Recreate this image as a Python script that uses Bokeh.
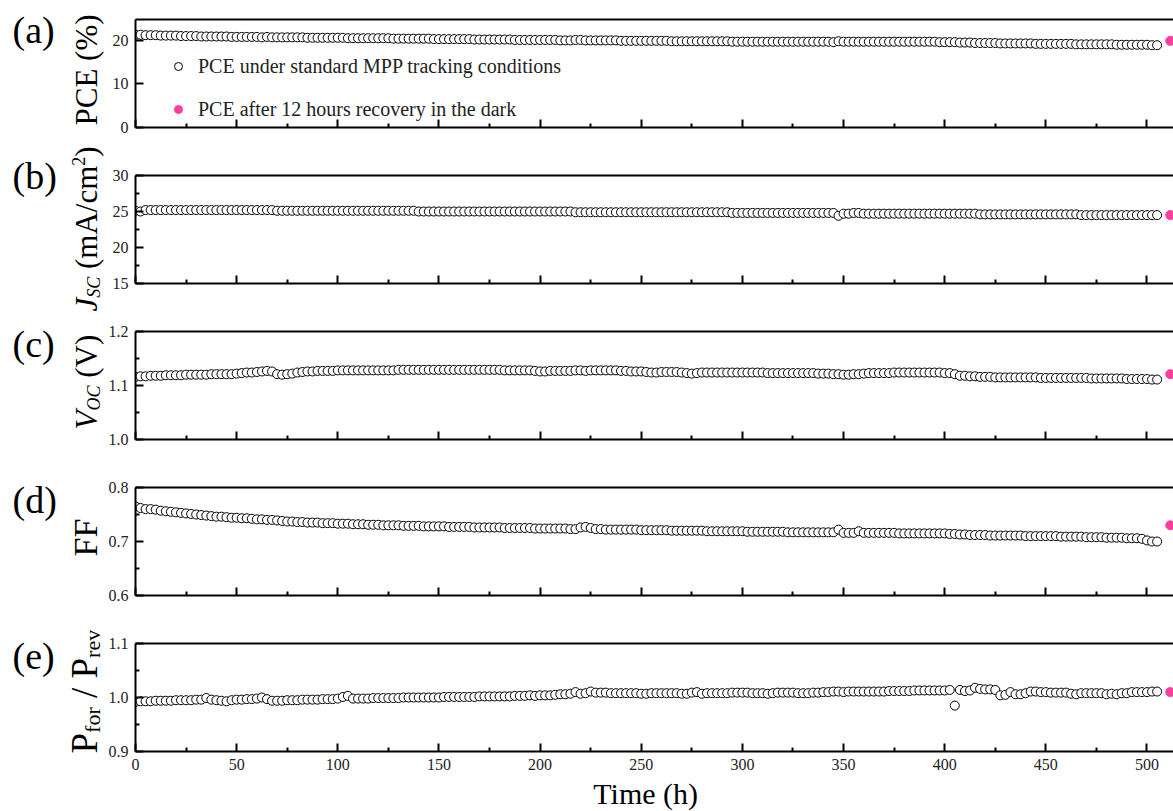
import math
from bokeh.plotting import figure
from bokeh.models import (Range1d, FixedTicker, NumeralTickFormatter, LinearAxis,
                          Label, Legend, LegendItem)
from bokeh.layouts import column, row
from bokeh.embed import file_html
from bokeh.resources import INLINE

# ---------------- data ----------------
time_h = [
    0, 2.5, 5, 7.5, 10, 12.5, 15, 17.5, 20, 22.5,
    25, 27.5, 30, 32.5, 35, 37.5, 40, 42.5, 45, 47.5,
    50, 52.5, 55, 57.5, 60, 62.5, 65, 67.5, 70, 72.5,
    75, 77.5, 80, 82.5, 85, 87.5, 90, 92.5, 95, 97.5,
    100, 102.5, 105, 107.5, 110, 112.5, 115, 117.5, 120, 122.5,
    125, 127.5, 130, 132.5, 135, 137.5, 140, 142.5, 145, 147.5,
    150, 152.5, 155, 157.5, 160, 162.5, 165, 167.5, 170, 172.5,
    175, 177.5, 180, 182.5, 185, 187.5, 190, 192.5, 195, 197.5,
    200, 202.5, 205, 207.5, 210, 212.5, 215, 217.5, 220, 222.5,
    225, 227.5, 230, 232.5, 235, 237.5, 240, 242.5, 245, 247.5,
    250, 252.5, 255, 257.5, 260, 262.5, 265, 267.5, 270, 272.5,
    275, 277.5, 280, 282.5, 285, 287.5, 290, 292.5, 295, 297.5,
    300, 302.5, 305, 307.5, 310, 312.5, 315, 317.5, 320, 322.5,
    325, 327.5, 330, 332.5, 335, 337.5, 340, 342.5, 345, 347.5,
    350, 352.5, 355, 357.5, 360, 362.5, 365, 367.5, 370, 372.5,
    375, 377.5, 380, 382.5, 385, 387.5, 390, 392.5, 395, 397.5,
    400, 402.5, 405, 407.5, 410, 412.5, 415, 417.5, 420, 422.5,
    425, 427.5, 430, 432.5, 435, 437.5, 440, 442.5, 445, 447.5,
    450, 452.5, 455, 457.5, 460, 462.5, 465, 467.5, 470, 472.5,
    475, 477.5, 480, 482.5, 485, 487.5, 490, 492.5, 495, 497.5,
    500, 502.5, 505,
]

pce = [
    21.3, 21.3, 21.2, 21.2, 21.2, 21.1, 21.1, 21.1, 21.1, 21.0,
    21.0, 21.0, 21.0, 20.9, 20.9, 20.9, 20.9, 20.9, 20.9, 20.8,
    20.8, 20.8, 20.8, 20.8, 20.8, 20.7, 20.8, 20.7, 20.7, 20.7,
    20.7, 20.7, 20.7, 20.7, 20.6, 20.6, 20.6, 20.6, 20.6, 20.6,
    20.6, 20.6, 20.5, 20.5, 20.5, 20.5, 20.5, 20.5, 20.5, 20.5,
    20.5, 20.4, 20.4, 20.4, 20.4, 20.4, 20.4, 20.4, 20.4, 20.3,
    20.3, 20.3, 20.3, 20.3, 20.3, 20.3, 20.3, 20.2, 20.2, 20.2,
    20.2, 20.2, 20.2, 20.2, 20.2, 20.1, 20.1, 20.1, 20.1, 20.1,
    20.1, 20.1, 20.1, 20.1, 20.0, 20.0, 20.0, 20.1, 20.1, 20.0,
    20.0, 20.0, 20.0, 20.0, 20.0, 20.0, 19.9, 19.9, 19.9, 19.9,
    19.9, 19.9, 19.9, 19.9, 19.9, 19.9, 19.8, 19.8, 19.8, 19.8,
    19.8, 19.8, 19.8, 19.8, 19.8, 19.8, 19.8, 19.8, 19.7, 19.7,
    19.7, 19.7, 19.7, 19.7, 19.7, 19.7, 19.7, 19.7, 19.7, 19.7,
    19.7, 19.7, 19.7, 19.7, 19.7, 19.7, 19.7, 19.7, 19.6, 19.8,
    19.7, 19.7, 19.7, 19.7, 19.7, 19.7, 19.7, 19.7, 19.7, 19.7,
    19.7, 19.7, 19.7, 19.7, 19.7, 19.7, 19.7, 19.7, 19.7, 19.6,
    19.6, 19.6, 19.6, 19.5, 19.5, 19.5, 19.4, 19.4, 19.4, 19.4,
    19.4, 19.3, 19.3, 19.3, 19.3, 19.3, 19.3, 19.3, 19.2, 19.2,
    19.2, 19.2, 19.2, 19.2, 19.2, 19.2, 19.1, 19.1, 19.1, 19.1,
    19.1, 19.1, 19.1, 19.1, 19.0, 19.0, 19.0, 19.0, 19.0, 19.0,
    19.0, 18.9, 18.9,
]

jsc = [
    25.1, 25.0, 25.2, 25.2, 25.2, 25.2, 25.2, 25.2, 25.2, 25.2,
    25.2, 25.2, 25.2, 25.2, 25.2, 25.2, 25.2, 25.2, 25.2, 25.2,
    25.2, 25.2, 25.2, 25.2, 25.2, 25.2, 25.2, 25.2, 25.1, 25.1,
    25.1, 25.1, 25.1, 25.1, 25.1, 25.1, 25.1, 25.1, 25.1, 25.1,
    25.1, 25.1, 25.1, 25.1, 25.1, 25.1, 25.1, 25.1, 25.1, 25.1,
    25.1, 25.1, 25.1, 25.1, 25.1, 25.1, 25.0, 25.0, 25.0, 25.0,
    25.0, 25.0, 25.0, 25.0, 25.0, 25.0, 25.0, 25.0, 25.0, 25.0,
    25.0, 25.0, 25.0, 25.0, 25.0, 25.0, 25.0, 25.0, 25.0, 25.0,
    25.0, 25.0, 25.0, 25.0, 25.0, 25.0, 25.0, 24.9, 24.9, 24.9,
    24.9, 24.9, 24.9, 24.9, 24.9, 24.9, 24.9, 24.9, 24.9, 24.9,
    24.9, 24.9, 24.9, 24.9, 24.9, 24.9, 24.9, 24.9, 24.9, 24.9,
    24.9, 24.9, 24.9, 24.9, 24.9, 24.9, 24.9, 24.9, 24.8, 24.8,
    24.8, 24.8, 24.8, 24.8, 24.8, 24.8, 24.8, 24.8, 24.8, 24.8,
    24.8, 24.8, 24.8, 24.8, 24.8, 24.8, 24.8, 24.8, 24.8, 24.4,
    24.7, 24.7, 24.8, 24.8, 24.7, 24.7, 24.7, 24.7, 24.7, 24.7,
    24.7, 24.7, 24.7, 24.7, 24.7, 24.7, 24.7, 24.7, 24.7, 24.7,
    24.7, 24.7, 24.7, 24.7, 24.7, 24.7, 24.7, 24.6, 24.6, 24.6,
    24.6, 24.6, 24.6, 24.6, 24.6, 24.6, 24.6, 24.6, 24.6, 24.6,
    24.6, 24.6, 24.6, 24.6, 24.6, 24.6, 24.6, 24.5, 24.5, 24.5,
    24.5, 24.5, 24.5, 24.5, 24.5, 24.5, 24.5, 24.5, 24.5, 24.5,
    24.5, 24.5, 24.5,
]

voc = [
    1.116, 1.117, 1.117, 1.118, 1.118, 1.118, 1.119, 1.119, 1.119, 1.119,
    1.120, 1.120, 1.120, 1.120, 1.120, 1.121, 1.121, 1.121, 1.121, 1.121,
    1.122, 1.123, 1.124, 1.124, 1.125, 1.126, 1.127, 1.126, 1.121, 1.120,
    1.121, 1.122, 1.124, 1.125, 1.126, 1.126, 1.127, 1.127, 1.127, 1.127,
    1.128, 1.128, 1.128, 1.128, 1.128, 1.128, 1.128, 1.128, 1.128, 1.128,
    1.128, 1.128, 1.129, 1.129, 1.129, 1.129, 1.129, 1.129, 1.129, 1.129,
    1.129, 1.129, 1.129, 1.129, 1.129, 1.129, 1.129, 1.129, 1.129, 1.129,
    1.129, 1.129, 1.129, 1.128, 1.128, 1.128, 1.128, 1.128, 1.128, 1.127,
    1.126, 1.126, 1.127, 1.127, 1.127, 1.127, 1.127, 1.128, 1.128, 1.127,
    1.128, 1.128, 1.128, 1.128, 1.128, 1.128, 1.127, 1.127, 1.126, 1.126,
    1.126, 1.125, 1.124, 1.124, 1.125, 1.125, 1.125, 1.125, 1.124, 1.123,
    1.122, 1.123, 1.124, 1.124, 1.124, 1.124, 1.124, 1.124, 1.124, 1.124,
    1.124, 1.124, 1.124, 1.124, 1.124, 1.123, 1.123, 1.123, 1.123, 1.123,
    1.123, 1.123, 1.123, 1.123, 1.123, 1.122, 1.122, 1.122, 1.121, 1.121,
    1.120, 1.120, 1.121, 1.121, 1.122, 1.123, 1.123, 1.123, 1.123, 1.123,
    1.124, 1.124, 1.124, 1.124, 1.124, 1.124, 1.124, 1.124, 1.124, 1.124,
    1.123, 1.123, 1.121, 1.118, 1.118, 1.117, 1.117, 1.116, 1.116, 1.116,
    1.115, 1.115, 1.115, 1.115, 1.115, 1.115, 1.115, 1.115, 1.115, 1.114,
    1.114, 1.114, 1.114, 1.114, 1.114, 1.114, 1.114, 1.114, 1.114, 1.113,
    1.113, 1.113, 1.113, 1.113, 1.113, 1.113, 1.112, 1.112, 1.112, 1.112,
    1.112, 1.111, 1.111,
]

ff = [
    0.765, 0.762, 0.760, 0.760, 0.759, 0.757, 0.756, 0.755, 0.754, 0.753,
    0.752, 0.751, 0.750, 0.749, 0.748, 0.747, 0.746, 0.746, 0.745, 0.744,
    0.744, 0.743, 0.743, 0.742, 0.741, 0.741, 0.740, 0.740, 0.739, 0.738,
    0.737, 0.737, 0.736, 0.736, 0.735, 0.735, 0.735, 0.734, 0.734, 0.734,
    0.733, 0.733, 0.733, 0.732, 0.732, 0.732, 0.731, 0.731, 0.731, 0.730,
    0.730, 0.730, 0.730, 0.729, 0.729, 0.729, 0.729, 0.728, 0.728, 0.728,
    0.728, 0.728, 0.727, 0.727, 0.727, 0.727, 0.727, 0.726, 0.726, 0.726,
    0.726, 0.726, 0.726, 0.725, 0.725, 0.725, 0.725, 0.725, 0.725, 0.724,
    0.724, 0.724, 0.724, 0.724, 0.724, 0.724, 0.723, 0.723, 0.726, 0.727,
    0.725, 0.723, 0.723, 0.722, 0.722, 0.722, 0.722, 0.722, 0.722, 0.722,
    0.721, 0.721, 0.721, 0.721, 0.721, 0.721, 0.720, 0.720, 0.720, 0.720,
    0.720, 0.720, 0.720, 0.719, 0.719, 0.719, 0.719, 0.719, 0.719, 0.719,
    0.719, 0.718, 0.718, 0.718, 0.718, 0.718, 0.718, 0.718, 0.718, 0.717,
    0.717, 0.717, 0.717, 0.717, 0.717, 0.717, 0.717, 0.717, 0.717, 0.722,
    0.716, 0.716, 0.716, 0.719, 0.716, 0.716, 0.716, 0.716, 0.716, 0.716,
    0.716, 0.715, 0.715, 0.715, 0.715, 0.715, 0.715, 0.715, 0.715, 0.715,
    0.715, 0.714, 0.714, 0.713, 0.713, 0.712, 0.712, 0.712, 0.712, 0.711,
    0.711, 0.711, 0.711, 0.711, 0.711, 0.711, 0.710, 0.710, 0.710, 0.710,
    0.710, 0.710, 0.710, 0.709, 0.709, 0.709, 0.709, 0.709, 0.708, 0.708,
    0.708, 0.708, 0.707, 0.707, 0.707, 0.707, 0.706, 0.706, 0.706, 0.705,
    0.702, 0.700, 0.700,
]

p_ratio = [
    0.992, 0.993, 0.993, 0.993, 0.994, 0.994, 0.994, 0.994, 0.995, 0.995,
    0.995, 0.995, 0.996, 0.996, 0.999, 0.996, 0.995, 0.994, 0.993, 0.995,
    0.996, 0.996, 0.997, 0.997, 0.998, 1.000, 0.997, 0.994, 0.994, 0.994,
    0.995, 0.995, 0.995, 0.996, 0.996, 0.996, 0.996, 0.997, 0.997, 0.997,
    0.998, 1.001, 1.003, 0.998, 0.998, 0.998, 0.998, 0.999, 0.999, 0.999,
    0.999, 0.999, 0.999, 1.000, 1.000, 1.000, 1.000, 1.000, 1.000, 1.000,
    1.000, 1.001, 1.001, 1.001, 1.001, 1.001, 1.001, 1.001, 1.002, 1.002,
    1.002, 1.002, 1.002, 1.002, 1.002, 1.003, 1.003, 1.003, 1.004, 1.003,
    1.004, 1.004, 1.004, 1.005, 1.006, 1.006, 1.007, 1.010, 1.007, 1.008,
    1.011, 1.009, 1.009, 1.009, 1.008, 1.008, 1.008, 1.008, 1.008, 1.008,
    1.007, 1.007, 1.008, 1.008, 1.008, 1.008, 1.008, 1.008, 1.007, 1.007,
    1.009, 1.010, 1.007, 1.008, 1.008, 1.008, 1.008, 1.008, 1.009, 1.009,
    1.009, 1.009, 1.008, 1.008, 1.008, 1.007, 1.008, 1.009, 1.009, 1.009,
    1.009, 1.008, 1.008, 1.008, 1.009, 1.009, 1.010, 1.010, 1.011, 1.011,
    1.010, 1.011, 1.011, 1.011, 1.011, 1.011, 1.011, 1.011, 1.011, 1.012,
    1.012, 1.012, 1.012, 1.012, 1.013, 1.013, 1.013, 1.013, 1.013, 1.013,
    1.013, 1.014, 0.985, 1.014, 1.012, 1.013, 1.018, 1.016, 1.015, 1.015,
    1.014, 1.004, 1.005, 1.010, 1.006, 1.006, 1.008, 1.011, 1.011, 1.010,
    1.010, 1.009, 1.009, 1.009, 1.009, 1.007, 1.006, 1.008, 1.008, 1.008,
    1.008, 1.008, 1.006, 1.007, 1.006, 1.008, 1.008, 1.010, 1.010, 1.010,
    1.010, 1.011, 1.011,
]

recovery_time_h = [511.5]
pce_rec = [19.9]
jsc_rec = [24.5]
voc_rec = [1.121]
ff_rec = [0.730]
p_ratio_rec = [1.010]

x_ticks = [0, 50, 100, 150, 200, 250, 300, 350, 400, 450, 500]
x_minor = [25, 75, 125, 175, 225, 275, 325, 375, 425, 475]

# ---------------- styling / layout ----------------
FONT = "Liberation Serif"
PINK = "#ff3d9e"
PAGE_H = 811
LEFT_W = 105            # width of the strip holding panel letters and y titles
FRAME_LEFT = 135        # absolute x of the frames' left edge
PANEL_W = 1173 - LEFT_W
BOTTOM_H = 34
X_RANGE = Range1d(0, 513.1)
BASE_SHIFT = 0.36       # empirical offset of the 'alphabetic' anchor (in em)

panels = [
    dict(h=138, bt=19, bb=11, yr=(0, 24.8), ticks=[0, 10, 20], minor=[], fmt="0",
         y=pce, yrec=pce_rec),
    dict(h=180, bt=37, bb=35, yr=(15, 30), ticks=[15, 20, 25, 30], minor=[17.5, 22.5, 27.5],
         fmt="0", y=jsc, yrec=jsc_rec),
    dict(h=152, bt=13, bb=31, yr=(1.0, 1.2), ticks=[1.0, 1.1, 1.2], minor=[1.05, 1.15],
         fmt="0.0", y=voc, yrec=voc_rec),
    dict(h=155, bt=17, bb=30, yr=(0.6, 0.8), ticks=[0.6, 0.7, 0.8], minor=[0.65, 0.75],
         fmt="0.0", y=ff, yrec=ff_rec),
    dict(h=152, bt=18, bb=26, yr=(0.9, 1.1), ticks=[0.9, 1.0, 1.1], minor=[0.95, 1.05],
         fmt="0.0", y=p_ratio, yrec=p_ratio_rec),
]

TR = {' ': 250, '(': 333, ')': 333, '%': 833, '/': 278, 'A': 722, 'C': 667, 'E': 611,
      'F': 556, 'P': 556, 'V': 722, 'm': 778, 'c': 444, '2': 500, 'f': 333, 'o': 500,
      'r': 333, 'e': 444, 'v': 500}
TI = {'J': 444, 'S': 500, 'C': 667, 'O': 722, 'V': 611, ' ': 250}


def tw(s, size, italic):
    t = TI if italic else TR
    return sum(t.get(ch, 500) for ch in s) / 1000.0 * size


def style_axis(ax, show_labels=True, standoff=9):
    ax.axis_line_width = 2
    ax.axis_line_color = "black"
    ax.major_tick_in = 8
    ax.major_tick_out = 0
    ax.minor_tick_in = 4
    ax.minor_tick_out = 0
    ax.major_tick_line_width = 2
    ax.minor_tick_line_width = 2
    ax.major_tick_line_color = "black"
    ax.minor_tick_line_color = "black"
    ax.major_label_text_font = FONT
    if show_labels:
        ax.major_label_text_color = "#222222"
        ax.major_label_text_font_size = "16px"
        ax.major_label_standoff = standoff
    else:
        ax.major_label_text_color = None
        ax.major_label_text_font_size = "1px"
        ax.major_label_standoff = 0


figs = []
for i, pc in enumerate(panels):
    last = i == len(panels) - 1
    p = figure(width=PANEL_W, height=pc["h"], x_range=X_RANGE, y_range=Range1d(*pc["yr"]),
               output_backend="svg", toolbar_location=None,
               min_border_left=FRAME_LEFT - LEFT_W, min_border_right=0,
               min_border_top=pc["bt"], min_border_bottom=pc["bb"])
    p.outline_line_color = None
    p.xgrid.visible = False
    p.ygrid.visible = False
    p.background_fill_color = "white"
    p.border_fill_color = "white"

    p.xaxis.ticker = FixedTicker(ticks=x_ticks, minor_ticks=x_minor)
    p.xaxis.formatter = NumeralTickFormatter(format="0")
    style_axis(p.xaxis[0], show_labels=last, standoff=7)
    p.yaxis.ticker = FixedTicker(ticks=pc["ticks"], minor_ticks=pc["minor"])
    p.yaxis.formatter = NumeralTickFormatter(format=pc["fmt"])
    style_axis(p.yaxis[0], show_labels=True, standoff=7)

    top = LinearAxis(ticker=FixedTicker(ticks=[], minor_ticks=[]))
    style_axis(top, show_labels=False)
    top.major_tick_in = 0
    top.minor_tick_in = 0
    p.add_layout(top, "above")

    r_main = p.scatter(time_h, pc["y"], size=9, marker="circle", fill_color="white",
                       line_color="black", line_width=1)
    r_rec = p.scatter(recovery_time_h, pc["yrec"], size=9, marker="circle",
                      fill_color=PINK, line_color=PINK, line_width=1)
    pc["fig"] = p
    pc["r_main"] = r_main
    pc["r_rec"] = r_rec
    figs.append(p)

# legend in panel (a)
pa = panels[0]
legend = Legend(items=[
    LegendItem(label="PCE under standard MPP tracking conditions", renderers=[pa["r_main"]]),
    LegendItem(label="PCE after 12 hours recovery in the dark", renderers=[pa["r_rec"]]),
], location=(33, 6), orientation="vertical", padding=0, margin=0, spacing=19,
    glyph_width=20, glyph_height=24, label_height=24, label_standoff=10,
    label_text_font=FONT, label_text_font_size="20px", label_text_color="#222222",
    border_line_color=None, background_fill_alpha=0)
pa["fig"].add_layout(legend)

# ---------- left strip: panel letters and y-axis titles (page pixel coordinates) ----------
left = figure(width=LEFT_W, height=PAGE_H, x_range=Range1d(0, LEFT_W), y_range=Range1d(0, PAGE_H),
              output_backend="svg", toolbar_location=None, x_axis_type=None, y_axis_type=None,
              min_border_left=0, min_border_right=0, min_border_top=0, min_border_bottom=0)
left.outline_line_color = None
left.xgrid.visible = False
left.ygrid.visible = False
left.background_fill_color = "white"
left.border_fill_color = "white"

letters = [("(a)", 29), ("(b)", 175), ("(c)", 343), ("(d)", 499), ("(e)", 655)]
for txt, cy in letters:
    left.add_layout(Label(x=12, y=PAGE_H - cy, text=txt, text_align="left",
                          text_baseline="middle", text_font=FONT,
                          text_font_size="38px", text_color="black"))


def rot_label(pieces, y_start):
    """pieces: (text, size, italic, baseline x); y_start = page y of the text's start.
    Leading spaces are turned into a gap (SVG drops them)."""
    y = PAGE_H - y_start
    for text, size, italic, bx in pieces:
        stripped = text.lstrip(" ")
        y += tw(text[:len(text) - len(stripped)], size, italic)
        left.add_layout(Label(x=bx - BASE_SHIFT * size, y=y, text=stripped, angle=math.pi / 2,
                              text_align="left", text_baseline="alphabetic", text_font=FONT,
                              text_font_size=f"{size}px",
                              text_font_style="italic" if italic else "normal",
                              text_color="black"))
        y += tw(stripped, size, italic)


rot_label([("PCE (%)", 31, False, 97)], 125)
rot_label([("J", 31, True, 97), ("SC", 18, True, 100), (" (mA/cm", 31, False, 97),
           ("2", 18, False, 84), (")", 31, False, 97)], 311)
rot_label([("V", 31, True, 97), ("OC", 18, True, 100), (" (V)", 31, False, 97)], 429)
rot_label([("FF", 34, False, 97)], 556)
rot_label([("P", 37, False, 97), ("for", 22, False, 100), (" / ", 37, False, 97),
           ("P", 37, False, 97), ("rev", 22, False, 100)], 753)

# ---------- bottom strip: x-axis title ----------
bottom = figure(width=PANEL_W, height=BOTTOM_H, x_range=Range1d(LEFT_W, 1173),
                y_range=Range1d(0, BOTTOM_H), output_backend="svg", toolbar_location=None,
                x_axis_type=None, y_axis_type=None,
                min_border_left=0, min_border_right=0, min_border_top=0, min_border_bottom=0)
bottom.outline_line_color = None
bottom.xgrid.visible = False
bottom.ygrid.visible = False
bottom.background_fill_color = "white"
bottom.border_fill_color = "white"
bottom.add_layout(Label(x=576, y=PAGE_H - 804 + BASE_SHIFT * 30, text="Time (h)",
                        text_align="left", text_baseline="alphabetic", text_font=FONT,
                        text_font_size="30px", text_color="black"))

layout = row(left, column(*figs, bottom, spacing=0), spacing=0)
open("out.html", "w").write(file_html(layout, INLINE))
